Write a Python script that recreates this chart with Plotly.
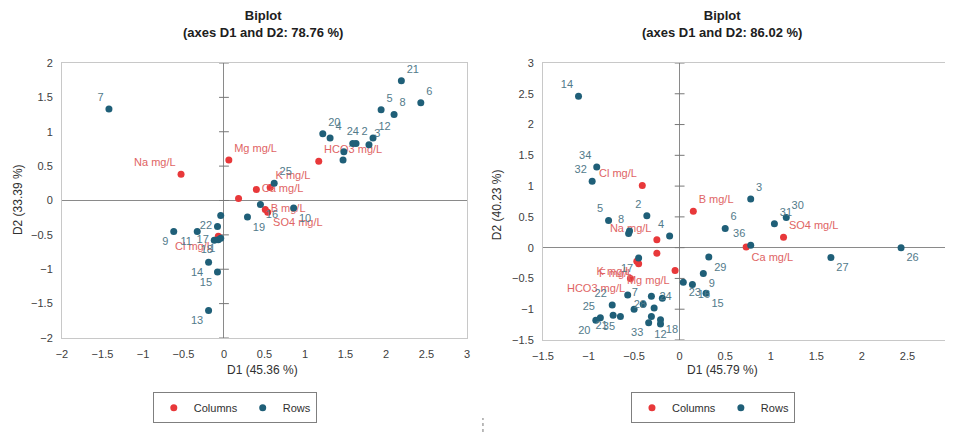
import plotly.graph_objects as go

# ---------------- data: left biplot ----------------
L_row_labels = ["7", "21", "6", "5", "8", "12", "3", "2", "24", "20", "4", "", "",
                "25", "16", "10", "19", "", "22", "9", "11", "17", "18", "1", "14", "15", "13"]
L_row_x = [-1.42, 2.19, 2.43, 1.94, 2.10, 1.84, 1.79, 1.63, 1.59, 1.22, 1.31, 1.48, 1.47,
           0.62, 0.45, 0.86, 0.29, -0.04, -0.08, -0.62, -0.33, -0.12, -0.07, -0.04, -0.19, -0.08, -0.19]
L_row_y = [1.33, 1.74, 1.42, 1.32, 1.25, 0.91, 0.81, 0.83, 0.83, 0.97, 0.91, 0.71, 0.59,
           0.25, -0.06, -0.11, -0.24, -0.22, -0.38, -0.45, -0.45, -0.58, -0.57, -0.55, -0.90, -1.04, -1.60]
L_row_pos = ["top left", "top right", "top right", "top right", "top right", "top right", "top right",
             "top right", "top center", "top right", "top right", "top right", "top right",
             "top right", "bottom right", "bottom right", "bottom right", "top left", "middle left",
             "bottom left", "bottom left", "middle left", "bottom left", "bottom left",
             "bottom left", "bottom left", "bottom left"]

L_col_labels = ["Na mg/L", "Mg mg/L", "K mg/L", "Ca mg/L", "", "HCO3 mg/L", "SO4 mg/L", "B mg/L", "Cl mg/L"]
L_col_x = [-0.53, 0.06, 0.57, 0.40, 0.18, 1.17, 0.54, 0.51, -0.07]
L_col_y = [0.38, 0.59, 0.19, 0.16, 0.03, 0.57, -0.17, -0.13, -0.52]
L_col_pos = ["top left", "top right", "top right", "middle right", "top right", "top right",
             "bottom right", "middle right", "bottom left"]

# ---------------- data: right biplot ----------------
R_row_labels = ["14", "34", "32", "5", "8", "", "2", "4", "6", "3", "30", "31", "36", "26", "27",
                "29", "9", "23", "16", "15", "17", "22", "25", "20", "21", "35", "33", "28", "18",
                "12", "7", "24", "", "", "", ""]
R_row_x = [-1.11, -0.91, -0.96, -0.78, -0.55, -0.56, -0.36, -0.11, 0.50, 0.78, 1.17, 1.04, 0.78,
           2.43, 1.66, 0.32, 0.26, 0.04, 0.14, 0.29, -0.45, -0.74, -0.87, -0.92, -0.73, -0.65,
           -0.34, -0.31, -0.21, -0.21, -0.40, -0.28, -0.57, -0.31, -0.19, -0.50]
R_row_y = [2.46, 1.31, 1.08, 0.44, 0.27, 0.23, 0.52, 0.19, 0.31, 0.79, 0.49, 0.39, 0.04,
           0.00, -0.16, -0.15, -0.42, -0.56, -0.60, -0.74, -0.17, -0.93, -1.14, -1.18, -1.10, -1.12,
           -1.22, -1.12, -1.17, -1.24, -0.92, -0.98, -0.77, -0.79, -0.82, -1.00]
R_row_pos = ["top left", "top left", "top left", "top left", "top left", "top left", "top left",
             "top left", "top right", "top right", "top right", "top right", "top left",
             "bottom right", "bottom right", "bottom right", "bottom right", "bottom right",
             "bottom right", "bottom right", "bottom left", "top left", "top left", "bottom left",
             "bottom left", "bottom left", "bottom left", "top left", "bottom right", "bottom center",
             "top left", "top right", "top left", "top left", "top left", "top left"]

R_col_labels = ["Cl mg/L", "B mg/L", "Na mg/L", "K mg/L", "F mg/L", "", "Mg mg/L", "HCO3 mg/L",
                "SO4 mg/L", "Ca mg/L"]
R_col_x = [-0.41, 0.15, -0.25, -0.47, -0.45, -0.25, -0.05, -0.54, 1.14, 0.73]
R_col_y = [1.01, 0.59, 0.13, -0.22, -0.26, -0.09, -0.37, -0.50, 0.17, 0.01]
R_col_pos = ["top left", "top right", "top left", "bottom left", "bottom left", "top right",
             "bottom left", "bottom left", "top right", "bottom right"]

L_xticks = [-2, -1.5, -1, -0.5, 0, 0.5, 1, 1.5, 2, 2.5, 3]
L_yticks = [-2, -1.5, -1, -0.5, 0, 0.5, 1, 1.5, 2]
R_xticks = [-1.5, -1, -0.5, 0, 0.5, 1, 1.5, 2, 2.5, 3]
R_yticks = [-1.5, -1, -0.5, 0, 0.5, 1, 1.5, 2, 2.5, 3]

titles = ["Biplot<br>(axes D1 and D2: 78.76 %)", "Biplot<br>(axes D1 and D2: 86.02 %)"]
xtitles = ["D1 (45.36 %)", "D1 (45.79 %)"]
ytitles = ["D2 (33.39 %)", "D2 (40.23 %)"]

BLUE = "#1f5f78"
RED = "#e8383a"
BLUE_T = "#527a8a"
RED_T = "#e06464"
FONT = "Liberation Sans"

fig = go.Figure()

def add_panel(xa, ya, legend, cx, cy, cl, cpos, rx, ry, rl, rpos, yticks):
    # tick marks on the vertical axis through the origin
    fig.add_trace(go.Scatter(x=[0] * len(yticks), y=yticks, mode="markers",
                             marker=dict(symbol="line-ew", size=7, line=dict(color="#777777", width=1)),
                             xaxis=xa, yaxis=ya, showlegend=False, hoverinfo="skip"))
    fig.add_trace(go.Scatter(x=cx, y=cy, text=cl, mode="markers+text", name="Columns",
                             textposition=cpos, textfont=dict(color=RED_T, size=11, family=FONT),
                             marker=dict(color=RED, size=7), xaxis=xa, yaxis=ya, legend=legend))
    fig.add_trace(go.Scatter(x=rx, y=ry, text=rl, mode="markers+text", name="Rows",
                             textposition=rpos, textfont=dict(color=BLUE_T, size=11, family=FONT),
                             marker=dict(color=BLUE, size=7), xaxis=xa, yaxis=ya, legend=legend))

add_panel("x", "y", "legend", L_col_x, L_col_y, L_col_labels, L_col_pos,
          L_row_x, L_row_y, L_row_labels, L_row_pos, L_yticks)
add_panel("x2", "y2", "legend2", R_col_x, R_col_y, R_col_labels, R_col_pos,
          R_row_x, R_row_y, R_row_labels, R_row_pos, R_yticks)

axis_common = dict(showgrid=False, zeroline=True, zerolinecolor="#8a8a8a", zerolinewidth=1,
                   showline=True, linecolor="#c8c8c8", linewidth=1, mirror=True, ticks="",
                   automargin=False,
                   tickfont=dict(size=11, color="#404040", family=FONT), ticklabelstandoff=6)

legend_common = dict(orientation="h", y=0.057, xanchor="center", yanchor="middle",
                     bordercolor="#7f7f7f", borderwidth=1,
                     font=dict(size=11, color="#303030", family=FONT),
                     itemwidth=30, tracegroupgap=0)

# the page body adds an 8 px offset, so the figure is 945 x 424
fig.update_layout(
    template="none",
    width=945, height=424, margin=dict(l=0, r=0, t=0, b=0, autoexpand=False),
    paper_bgcolor="white", plot_bgcolor="white", font=dict(family=FONT),
    xaxis=dict(domain=[0.0571, 0.4857], range=[-2, 3], tickvals=L_xticks, anchor="y", **axis_common),
    yaxis=dict(domain=[0.2217, 0.8703], range=[-2, 2], tickvals=L_yticks, anchor="x", **axis_common),
    xaxis2=dict(domain=[0.5661, 1.0], range=[-1.5, 3], tickvals=R_xticks, anchor="y2", **axis_common),
    yaxis2=dict(domain=[0.2170, 0.8703], range=[-1.5, 3], tickvals=R_yticks, anchor="x2", **axis_common),
    legend=dict(x=0.240, **legend_common),
    legend2=dict(x=0.746, **legend_common),
    showlegend=True,
)

centers = [0.2698, 0.7556]
ycent = [0.547, 0.535]
ytx = [0.0106, 0.5175]
for i in range(2):
    fig.add_annotation(text="<b>" + titles[i].replace("<br>", "</b><br><b>") + "</b>",
                       x=centers[i], y=1.0, xref="paper", yref="paper", xanchor="center",
                       yanchor="top", yshift=2, showarrow=False,
                       font=dict(size=13, color="#202020", family=FONT))
    fig.add_annotation(text=xtitles[i], x=centers[i], y=0.146, xref="paper", yref="paper",
                       xanchor="center", yanchor="middle", showarrow=False,
                       font=dict(size=12, color="#303030", family=FONT))
    fig.add_annotation(text=ytitles[i], x=ytx[i], y=ycent[i], xref="paper", yref="paper",
                       xanchor="center", yanchor="middle", textangle=-90, showarrow=False,
                       font=dict(size=12, color="#303030", family=FONT))

# small dotted separator at the bottom middle
fig.add_shape(type="line", xref="paper", yref="paper", x0=0.5026, x1=0.5026, y0=0.0, y1=0.033,
              line=dict(color="#777777", width=1, dash="dot"))

fig.write_html("out.html")
